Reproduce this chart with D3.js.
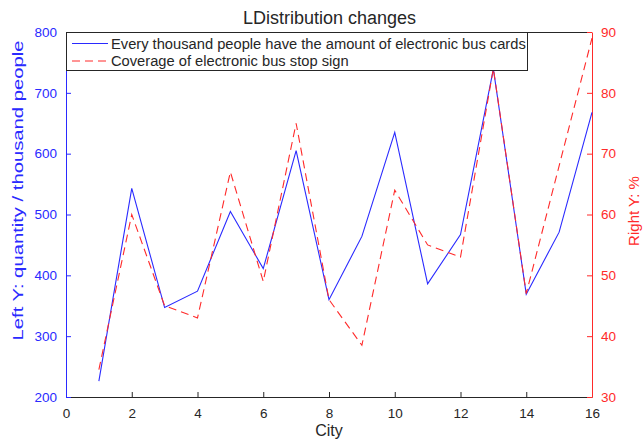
<!DOCTYPE html>
<html>
<head>
<meta charset="utf-8">
<script src="https://cdn.jsdelivr.net/npm/d3@7"></script>
<style>
  body { margin: 0; background: #fff; }
  text { font-family: "Liberation Sans", Arial, sans-serif; }
</style>
</head>
<body>
<div id="chart"></div>
<script>
// data
const cities = [1, 2, 3, 4, 5, 6, 7, 8, 9, 10, 11, 12, 13, 14, 15, 16];
const busCards = [226, 543, 347, 374, 505, 411, 605, 360, 464, 635, 386, 467, 739, 369, 471, 668];
const stopCoverage = [34.5, 60, 45, 43, 67, 49, 75, 46, 38.5, 64, 55, 53, 84, 47, 68, 89];
const xTicks = [0, 2, 4, 6, 8, 10, 12, 14, 16];
const leftTicks = [200, 300, 400, 500, 600, 700, 800];
const rightTicks = [30, 40, 50, 60, 70, 80, 90];
const seriesNames = ["Every thousand people have the amount of electronic bus cards", "Coverage of electronic bus stop sign"];

const width = 644, height = 441;
const plotL = 66, plotR = 592, plotT = 32, plotB = 397;
const blue = "#2a2aff", red = "#ff2a2a", dark = "#262626";

const svg = d3.select("#chart").append("svg")
  .attr("width", width)
  .attr("height", height);

const x = d3.scaleLinear().domain([0, 16]).range([plotL, plotR]);
const yL = d3.scaleLinear().domain([200, 800]).range([plotB, plotT]);
const yR = d3.scaleLinear().domain([30, 90]).range([plotB, plotT]);

// top border
svg.append("line")
  .attr("x1", plotL).attr("x2", plotR).attr("y1", plotT + 0.5).attr("y2", plotT + 0.5)
  .attr("stroke", dark);

// x axis (ticks inside)
const xAxis = svg.append("g")
  .attr("transform", `translate(0,${plotB})`)
  .call(d3.axisBottom(x).tickValues(xTicks).tickSizeInner(-5).tickSizeOuter(0).tickPadding(11));
xAxis.select(".domain").attr("stroke", dark);
xAxis.selectAll(".tick line").attr("stroke", dark);
xAxis.selectAll("text").attr("fill", dark).style("font-size", "13.5px");

// left axis
const lAxis = svg.append("g")
  .attr("transform", `translate(${plotL},0)`)
  .call(d3.axisLeft(yL).tickValues(leftTicks).tickSizeInner(-5).tickSizeOuter(0).tickPadding(9));
lAxis.select(".domain").attr("stroke", blue);
lAxis.selectAll(".tick line").attr("stroke", blue);
lAxis.selectAll("text").attr("fill", blue).style("font-size", "13.5px");

// right axis
const rAxis = svg.append("g")
  .attr("transform", `translate(${plotR},0)`)
  .call(d3.axisRight(yR).tickValues(rightTicks).tickSizeInner(-5).tickSizeOuter(0).tickPadding(9));
rAxis.select(".domain").attr("stroke", red);
rAxis.selectAll(".tick line").attr("stroke", red);
rAxis.selectAll("text").attr("fill", red).style("font-size", "13.5px");

// lines
const lineL = d3.line().x((d, i) => x(cities[i])).y(d => yL(d));
const lineR = d3.line().x((d, i) => x(cities[i])).y(d => yR(d));

svg.append("path")
  .attr("d", lineL(busCards))
  .attr("fill", "none")
  .attr("stroke", blue)
  .attr("stroke-width", 1.1);

svg.append("path")
  .attr("d", lineR(stopCoverage))
  .attr("fill", "none")
  .attr("stroke", red)
  .attr("stroke-width", 1.1)
  .attr("stroke-dasharray", "8,5");

// legend
const legend = svg.append("g");
legend.append("rect")
  .attr("x", plotL + 0.5).attr("y", plotT + 0.5)
  .attr("width", 461).attr("height", 38)
  .attr("fill", "#fff").attr("stroke", dark);

seriesNames.forEach((name, i) => {
  const ly = 43.5 + i * 17.5;
  legend.append("line")
    .attr("x1", 72).attr("x2", 108).attr("y1", ly).attr("y2", ly)
    .attr("stroke", i === 0 ? blue : red)
    .attr("stroke-dasharray", i === 0 ? null : "8,5");
  legend.append("text")
    .attr("x", 111).attr("y", ly)
    .attr("dy", "0.35em")
    .style("font-size", "14.7px")
    .attr("fill", dark)
    .text(name);
});

// titles
svg.append("text")
  .attr("x", 329.5).attr("y", 24)
  .attr("text-anchor", "middle")
  .style("font-size", "18px")
  .attr("fill", dark)
  .text("LDistribution changes");

svg.append("text")
  .attr("x", 329).attr("y", 436)
  .attr("text-anchor", "middle")
  .style("font-size", "16px")
  .attr("fill", dark)
  .text("City");

svg.append("text")
  .attr("transform", "translate(23,190.5) rotate(-90)")
  .attr("text-anchor", "middle")
  .attr("textLength", 300)
  .attr("lengthAdjust", "spacingAndGlyphs")
  .style("font-size", "15.5px")
  .attr("fill", blue)
  .text("Left Y: quantity / thousand people");

svg.append("text")
  .attr("transform", "translate(639,211) rotate(-90)")
  .attr("text-anchor", "middle")
  .style("font-size", "15px")
  .attr("fill", red)
  .text("Right Y: %");
</script>
</body>
</html>
